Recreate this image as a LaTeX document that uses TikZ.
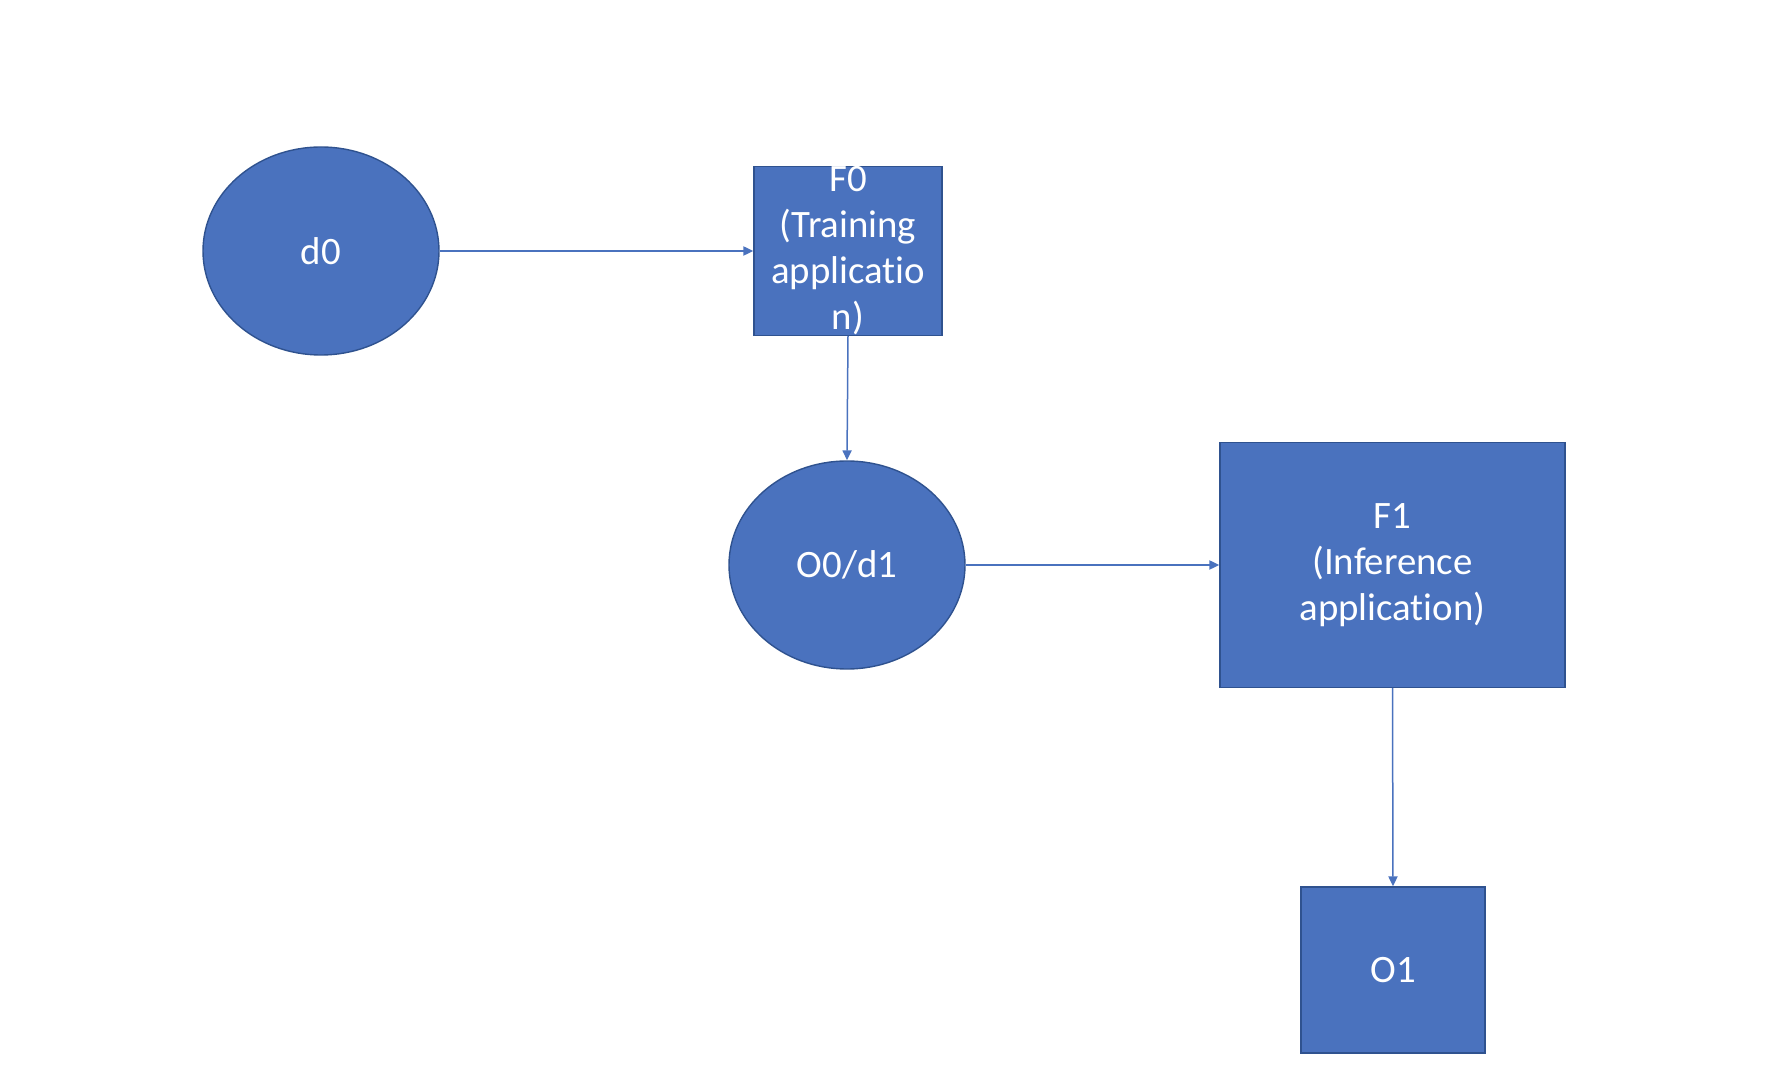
\documentclass[tikz,border=0pt]{standalone}
\usepackage{fontspec}
\setmainfont{Carlito}[RawFeature={-liga;-clig;-dlig;-calt}]
\usepackage{xcolor}
\usetikzlibrary{arrows.meta,positioning,shapes.geometric}
\definecolor{blu}{HTML}{4A72BE}
\definecolor{bluD}{HTML}{2F528F}
\tikzset{
  base/.style  ={draw=bluD, fill=blu, line width=.7pt, text=white, align=center,
                 font=\fontsize{19.4}{23}\selectfont, inner sep=0pt},
  oval/.style  ={base, ellipse, minimum width=118pt, minimum height=104pt},
  blk/.style   ={base, rectangle},
  flow/.style  ={-{Triangle[length=5pt,width=4.6pt]}, line width=.75pt, draw=blu},
}
\begin{document}
\begin{tikzpicture}[x=0.5pt,y=-0.5pt]
  \useasboundingbox (0,0) rectangle (1774,1080);
  \node[oval](d0) at (321,251){d0};
  \node[blk, minimum width=94pt, minimum height=83.5pt](f0) at (848,251){F0\\(Training\\applicatio\\n)};
  \node[oval](o0) at (847,565){O0/d1};
  \node[blk, minimum width=172.5pt, minimum height=122.5pt](f1) at (1392.5,565){F1\\(Inference\\application)};
  \node[blk, minimum width=92pt, minimum height=83pt](o1) at (1393,970){O1};
  \draw[flow](d0.east)--(f0.west);
  \draw[flow](f0.south)--(o0.north);
  \draw[flow](o0.east)--(f1.west);
  \draw[flow](f1.south)--(o1.north);
\end{tikzpicture}
\end{document}
